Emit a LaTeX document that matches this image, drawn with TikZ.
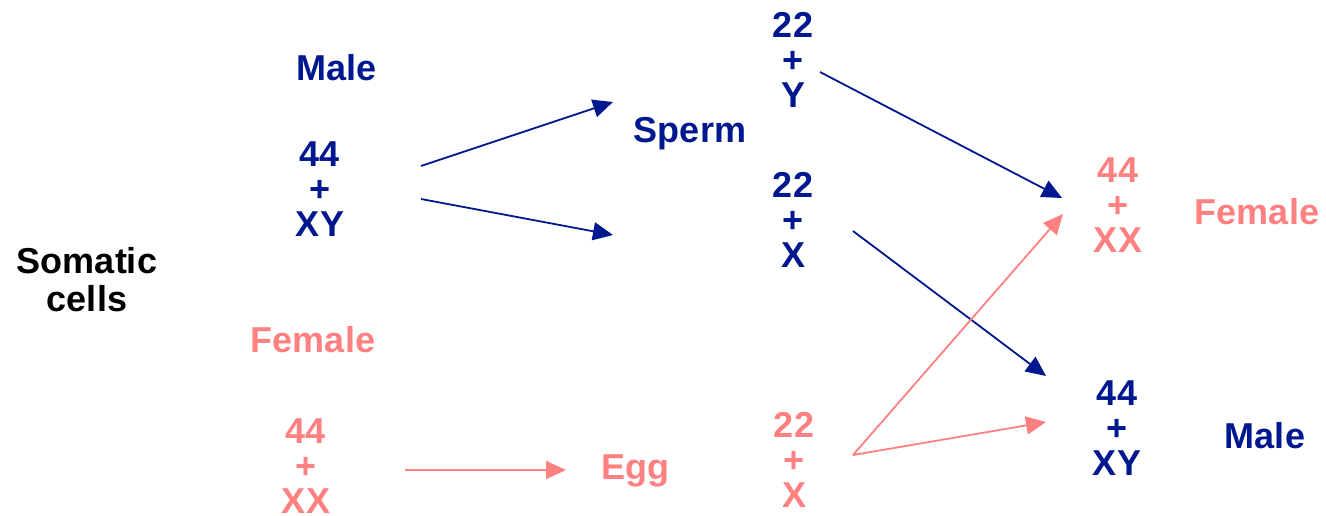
\documentclass[tikz,border=0pt]{standalone}
\usepackage{fontspec}
\setmainfont{Liberation Sans}
\usetikzlibrary{arrows.meta}
\definecolor{navy}{RGB}{0,24,143}
\definecolor{salmon}{RGB}{255,128,128}
\begin{document}
\begin{tikzpicture}[x=1pt,y=-1pt,
  lbl/.style={inner sep=0pt,align=center,font=\fontsize{36}{35}\selectfont\bfseries},
  nv/.style={lbl,text=navy},
  sm/.style={lbl,text=salmon},
  nvarrow/.style={draw=navy,line width=1.8pt,-{Triangle[length=20pt,width=18pt]}},
  smarrow/.style={draw=salmon,line width=1.8pt,-{Triangle[length=20pt,width=18pt]}}]
\useasboundingbox (0,0) rectangle (1326,515);
\node[nv] (male1) at (337,68) {Male};
\node[nv] (p44xy) at (320,189) {44\\+\\XY};
\node[nv] (sperm) at (690,134) {Sperm};
\node[nv] (s22y) at (793,60) {22\\+\\Y};
\node[nv] (s22x) at (793,220) {22\\+\\X};
\node[lbl,font=\fontsize{36}{38}\selectfont\bfseries] (somatic) at (87,280) {Somatic\\cells};
\node[sm] (female1) at (313,340) {Female};
\node[sm] (p44xx) at (306,466) {44\\+\\XX};
\node[sm] (egg) at (635,471) {Egg};
\node[sm] (e22x) at (794,460) {22\\+\\X};
\node[sm] (c44xx) at (1118,205) {44\\+\\XX};
\node[sm] (female2) at (1257,212) {Female};
\node[nv] (c44xy) at (1117,428) {44\\+\\XY};
\node[nv] (male2) at (1265,436) {Male};
\coordinate (a1s) at (421,166);
\coordinate (a1e) at (613,102);
\coordinate (a2s) at (421,199);
\coordinate (a2e) at (613,235);
\coordinate (a3s) at (820,72);
\coordinate (a3e) at (1062,198);
\coordinate (a4s) at (853,231);
\coordinate (a4e) at (1046,376);
\coordinate (a5s) at (405,470);
\coordinate (a5e) at (566,470);
\coordinate (a6s) at (853,455);
\coordinate (a6e) at (1063,214);
\coordinate (a7e) at (1046,422);
\draw[nvarrow] (a1s) -- (a1e);
\draw[nvarrow] (a2s) -- (a2e);
\draw[nvarrow] (a3s) -- (a3e);
\draw[nvarrow] (a4s) -- (a4e);
\draw[smarrow] (a5s) -- (a5e);
\draw[smarrow] (a6s) -- (a6e);
\draw[smarrow] (a6s) -- (a7e);
\end{tikzpicture}
\end{document}
